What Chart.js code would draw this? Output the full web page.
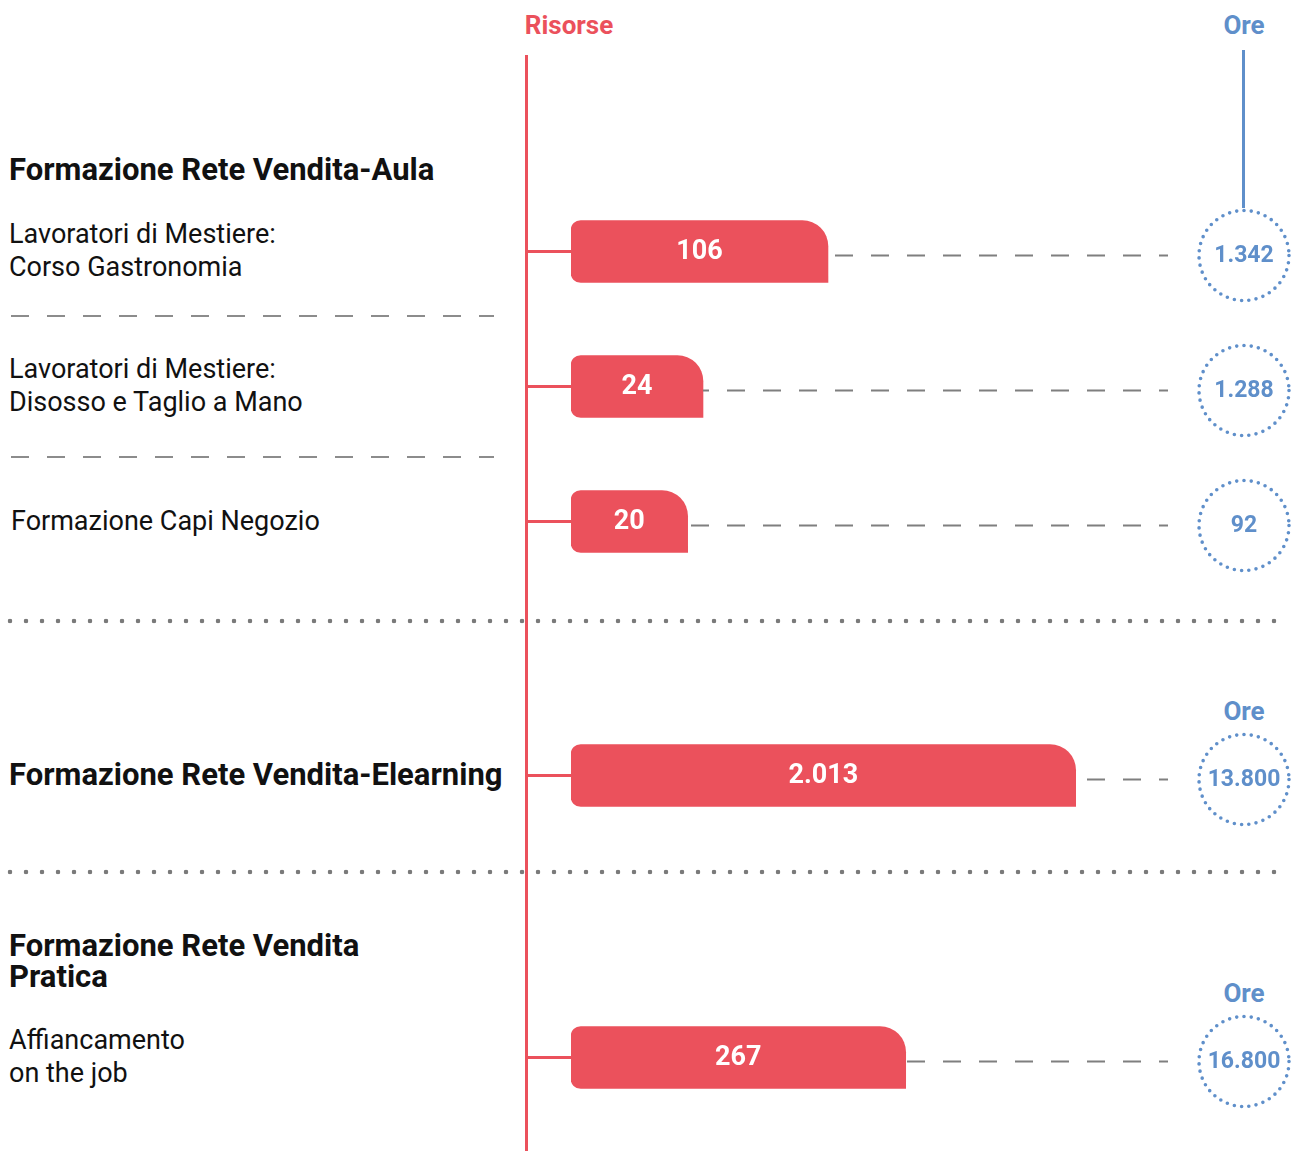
<!DOCTYPE html>
<html lang="it">
<head>
<meta charset="utf-8">
<title>Formazione Rete Vendita</title>
<script src="https://cdn.jsdelivr.net/npm/chart.js@4"></script>
<style>
  body { margin: 0; background: #fff; }
  #page { position: relative; width: 1294px; height: 1151px; font-family: Roboto, "Noto Sans", sans-serif; color: #111; overflow: hidden; }
  .txt { position: absolute; white-space: nowrap; }
  .head { font-size: 31px; font-weight: 700; line-height: 34px; }
  .body { font-size: 27px; font-weight: 400; line-height: 33px; }
  .col { position: absolute; font-size: 26px; font-weight: 700; line-height: 34px; width: 120px; text-align: center; }
  .dash { position: absolute; height: 2px; background: repeating-linear-gradient(to right, #8c8c8c 0 18px, transparent 18px 36px); }
  .dots { position: absolute; height: 6px; background-image: radial-gradient(circle, #7a7a7a 2px, transparent 2.6px); background-size: 16px 6px; }
  canvas { position: absolute; }
</style>
</head>
<body>
<div id="page">
  <!-- column headers and axes -->
  <div class="col" style="left:509px; top:8px; color:#eb515c;">Risorse</div>
  <div class="col" style="left:1184px; top:8px; color:#5f8fca;">Ore</div>
  <div style="position:absolute; left:525px; top:55px; width:3px; height:1096px; background:#eb515c;"></div>
  <div style="position:absolute; left:1242px; top:50px; width:3px; height:158px; background:#5f8fca;"></div>

  <!-- section: aula -->
  <div class="txt head" style="left:9px; top:153px;">Formazione Rete Vendita-Aula</div>
  <div class="txt body" id="lbl0" style="left:9px; top:218px;"></div>
  <div class="dash" style="left:11px; top:315px; width:483px;"></div>
  <div class="txt body" id="lbl1" style="left:9px; top:353px;"></div>
  <div class="dash" style="left:11px; top:456px; width:483px;"></div>
  <div class="txt body" id="lbl2" style="left:11px; top:505px;"></div>

  <div class="dots" style="left:2px; top:618px; width:1282px;"></div>

  <!-- section: elearning -->
  <div class="col" style="left:1184px; top:694px; color:#5f8fca;">Ore</div>
  <div class="txt head" style="left:9px; top:758px;">Formazione Rete Vendita-Elearning</div>

  <div class="dots" style="left:2px; top:869px; width:1282px;"></div>

  <!-- section: pratica -->
  <div class="col" style="left:1184px; top:976px; color:#5f8fca;">Ore</div>
  <div class="txt head" style="left:9px; top:930px; line-height:31px;">Formazione Rete Vendita<br>Pratica</div>
  <div class="txt body" id="lbl3" style="left:9px; top:1024px;"></div>

  <canvas id="aulaChart" width="768" height="405" style="left:526px; top:184px;"></canvas>
  <canvas id="elearningChart" width="768" height="135" style="left:526px; top:708px;"></canvas>
  <canvas id="praticaChart" width="768" height="135" style="left:526px; top:990px;"></canvas>
</div>

<script>
// ---------- data ----------
const aulaLabels = [
  ["Lavoratori di Mestiere:", "Corso Gastronomia"],
  ["Lavoratori di Mestiere:", "Disosso e Taglio a Mano"],
  ["Formazione Capi Negozio"]
];
const aulaRisorse = [106, 24, 20];
const aulaOre = [1342, 1288, 92];

const elearningLabels = [["Formazione Rete Vendita-Elearning"]];
const elearningRisorse = [2013];
const elearningOre = [13800];

const praticaLabels = [["Affiancamento", "on the job"]];
const praticaRisorse = [267];
const praticaOre = [16800];

const RED = "#eb515c";
const BLUE = "#5f8fca";

// thousands separator with a dot, e.g. 2013 -> 2.013
function fmt(n) {
  return String(n).replace(/\B(?=(\d{3})+(?!\d))/g, ".");
}

// left-hand row labels
[aulaLabels[0], aulaLabels[1], aulaLabels[2], praticaLabels[0]].forEach((lines, i) => {
  document.getElementById("lbl" + i).innerHTML = lines.join("<br>");
});

// stub from the red axis, value inside the bar, dashed leader and dotted "ore" circle
const rowDecor = {
  id: "rowDecor",
  afterDatasetsDraw(chart) {
    const ctx = chart.ctx;
    const ore = chart.options.plugins.rowDecor.ore;
    const bars = chart.getDatasetMeta(0).data;
    const circleX = chart.width - 50;
    bars.forEach((bar, i) => {
      const y = bar.y;
      ctx.save();
      // red stub
      ctx.strokeStyle = RED;
      ctx.lineWidth = 3;
      ctx.beginPath();
      ctx.moveTo(0, y);
      ctx.lineTo(bar.base, y);
      ctx.stroke();

      // leader to the circle
      ctx.strokeStyle = "#7f7f7f";
      ctx.lineWidth = 2;
      ctx.setLineDash([18, 18]);
      ctx.lineDashOffset = (bar.x - 21) % 36;
      ctx.beginPath();
      ctx.moveTo(bar.x, y + 4);
      ctx.lineTo(circleX - 76, y + 4);
      ctx.stroke();

      // dotted circle
      ctx.strokeStyle = BLUE;
      ctx.lineWidth = 3.6;
      ctx.lineCap = "round";
      ctx.setLineDash([0, 7.3]);
      ctx.lineDashOffset = 0;
      ctx.beginPath();
      ctx.arc(circleX, y + 4, 45, 0, Math.PI * 2);
      ctx.stroke();
      ctx.setLineDash([]);

      ctx.textAlign = "center";
      ctx.textBaseline = "middle";
      ctx.fillStyle = BLUE;
      ctx.font = "700 23px Roboto";
      ctx.fillText(fmt(ore[i]), circleX, y + 5);

      // value inside the bar
      ctx.fillStyle = "#fff";
      ctx.font = "700 27px Roboto";
      ctx.fillText(fmt(chart.data.datasets[0].data[i]), (bar.base + bar.x) / 2, y + 1);
      ctx.restore();
    });
  }
};

function makeChart(id, labels, values, ore) {
  return new Chart(document.getElementById(id), {
    type: "bar",
    data: {
      labels: labels.map(l => l.join(" ")),
      datasets: [{
        data: values,
        backgroundColor: RED,
        barThickness: 62,
        borderSkipped: false,
        borderRadius: { topLeft: 10, bottomLeft: 10, topRight: 26, bottomRight: 0 }
      }]
    },
    options: {
      indexAxis: "y",
      responsive: false,
      animation: false,
      devicePixelRatio: 1,
      layout: { padding: { left: 45, right: 123, top: 0, bottom: 0 } },
      scales: {
        x: { type: "logarithmic", min: 5, max: 6250, display: false },
        y: { display: false }
      },
      plugins: {
        legend: { display: false },
        tooltip: { enabled: false },
        rowDecor: { ore }
      }
    },
    plugins: [rowDecor]
  });
}

makeChart("aulaChart", aulaLabels, aulaRisorse, aulaOre);
makeChart("elearningChart", elearningLabels, elearningRisorse, elearningOre);
makeChart("praticaChart", praticaLabels, praticaRisorse, praticaOre);
</script>
</body>
</html>
